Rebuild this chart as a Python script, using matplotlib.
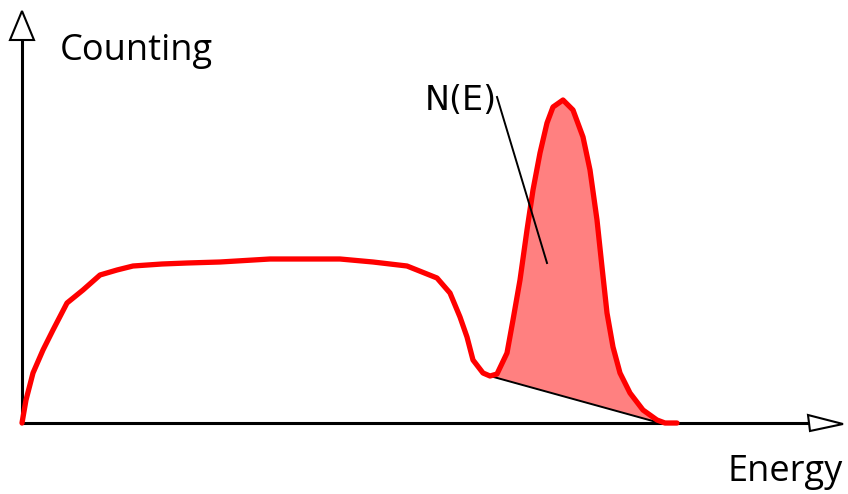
import matplotlib
matplotlib.use("Agg")

import matplotlib.pyplot as plt
import numpy as np
from matplotlib.patches import Polygon

# spectrum (energy, counts), origin at the axes corner
energy = [0, 4, 11, 21, 31, 45, 61, 78, 95, 111, 140, 165, 198, 248, 318,
          351, 385, 415, 428, 438, 445, 451, 461, 468, 475, 485, 491, 498,
          505, 511, 518, 525, 531, 541, 551, 561, 568, 575, 580, 585, 591,
          598, 608, 621, 635, 643, 655]
counts = [0, 23, 50, 73, 93, 120, 133, 148, 153, 157, 159, 160, 161, 164,
          164, 161, 157, 145, 130, 106, 86, 63, 50, 47, 49, 70, 103, 143, 193,
          233, 270, 300, 316, 323, 313, 286, 253, 203, 156, 110, 76, 50, 30,
          13, 3, 0, 0]

# background line under the photopeak
base_energy = [468, 638]
base_counts = [47, 0]

# leader line of the N(E) label
leader_energy = [475, 525]
leader_counts = [326, 160]

x_max = 786
y_max = 383


def main():
    fig = plt.figure(figsize=(8.48, 4.94), dpi=100)
    ax = fig.add_axes([0, 0, 1, 1])
    ax.set_xlim(-22, 826)
    ax.set_ylim(-71, 423)
    ax.axis("off")

    e = np.array(energy, dtype=float)
    c = np.array(counts, dtype=float)

    # peak area above the linear background
    mask = (e >= base_energy[0]) & (e <= base_energy[1])
    bg = np.interp(e[mask], base_energy, base_counts)
    ax.fill_between(e[mask], bg, c[mask], color="#ff8080", lw=0, zorder=1)
    ax.plot(base_energy, base_counts, color="black", lw=1.4, zorder=2)

    # axes with open arrow heads
    ax.plot([0, x_max], [0, 0], color="black", lw=2.2, zorder=2)
    ax.plot([0, 0], [0, y_max], color="black", lw=2.2, zorder=2)
    ax.add_patch(Polygon([[x_max, 8], [x_max + 35, -1], [x_max + 2, -8]],
                         closed=True, fc="white", ec="black", lw=1.5, zorder=3))
    ax.add_patch(Polygon([[-12, y_max], [0, y_max + 29], [12, y_max]],
                         closed=True, fc="white", ec="black", lw=1.5, zorder=3))

    ax.plot(e, c, color="#ff0000", lw=3.8, solid_capstyle="round",
            solid_joinstyle="round", zorder=4)

    # N(E) label with leader line
    ax.text(403, 323, "N(E)", fontsize=24, family="DejaVu Sans",
            ha="left", va="center", zorder=5)
    ax.plot(leader_energy, leader_counts, color="black", lw=1.4, zorder=5)

    ax.text(38, 372, "Counting", fontsize=26, family="Open Sans",
            ha="left", va="center")
    ax.text(821, -49, "Energy", fontsize=26, family="Open Sans",
            ha="right", va="center")

    fig.savefig("out.png", dpi=100)
    plt.close(fig)


main()
